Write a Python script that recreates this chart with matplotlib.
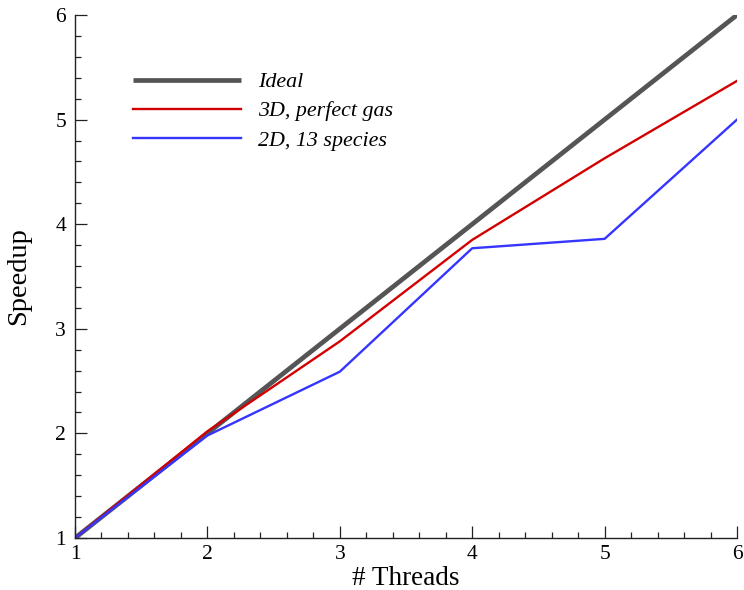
import matplotlib.pyplot as plt
from matplotlib.ticker import MultipleLocator, AutoMinorLocator

# Serif fonts throughout, like a Times-style plot
plt.rcParams['font.family'] = ['Liberation Serif', 'DejaVu Serif']
plt.rcParams['mathtext.fontset'] = 'stix'

# Speedup data
threads = [1, 2, 3, 4, 5, 6]
ideal = [1, 2, 3, 4, 5, 6]
perfect_gas_3d = [1.0, 2.02, 2.88, 3.85, 4.63, 5.37]
species_2d = [1.0, 1.98, 2.59, 3.77, 3.86, 5.0]

fig = plt.figure(figsize=(7.44, 5.90), dpi=100)
ax = fig.add_axes([0.1008, 0.0881, 0.8898, 0.8865])

ax.plot(threads, ideal, color='#555555', linewidth=3.4, label='Ideal', solid_capstyle='butt')
ax.plot(threads, perfect_gas_3d, color='#d20000', linewidth=1.7, label='3D, perfect gas')
ax.plot(threads, species_2d, color='#3535ff', linewidth=1.7, label='2D, 13 species')

ax.set_xlim(1, 6)
ax.set_ylim(1, 6)
ax.xaxis.set_major_locator(MultipleLocator(1))
ax.yaxis.set_major_locator(MultipleLocator(1))
ax.xaxis.set_minor_locator(AutoMinorLocator(5))
ax.yaxis.set_minor_locator(AutoMinorLocator(5))

ax.spines['top'].set_visible(False)
ax.spines['right'].set_visible(False)
for s in ('left', 'bottom'):
    ax.spines[s].set_linewidth(1.0)
    ax.spines[s].set_color('#222222')

ax.tick_params(which='major', direction='in', length=8.5, width=0.9, labelsize=15.5, color='#222222')
ax.tick_params(axis='x', which='major', pad=5)
ax.tick_params(axis='y', which='major', pad=6.5)
ax.tick_params(which='minor', direction='in', length=4.5, width=0.9, color='#222222')

ax.set_xlabel('# Threads', fontsize=19.5, labelpad=1.5)
ax.set_ylabel('Speedup', fontsize=20.5, labelpad=17)

leg = ax.legend(loc='upper left', bbox_to_anchor=(0.0876, 0.891), borderaxespad=0, borderpad=0,
                frameon=False, handlelength=4.9, handletextpad=0.78, labelspacing=0.4,
                prop={'style': 'italic', 'size': 15.8})

fig.savefig('out.png', dpi=100)
